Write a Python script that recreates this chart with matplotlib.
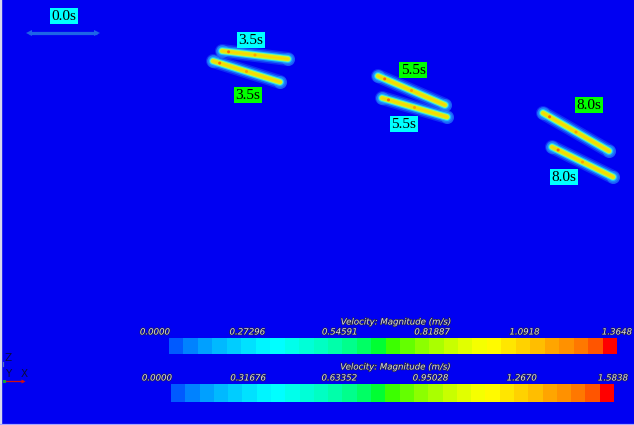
import numpy as np
import matplotlib
matplotlib.use("Agg")
import matplotlib.pyplot as plt
from matplotlib.colors import ListedColormap, Normalize
import matplotlib.colorbar as mcolorbar
import matplotlib.patheffects as pe

# rod snapshots: label, end points (scene coordinates, y down)
rod_times = ['0.0s', '3.5s', '3.5s', '5.5s', '5.5s', '8.0s', '8.0s']
rod_x0 = [29, 222, 213, 378, 382, 543, 552]
rod_y0 = [33, 51, 61, 76, 98, 113, 147]
rod_x1 = [97, 288, 280, 445, 447, 609, 613]
rod_y1 = [33, 59, 82, 105, 117, 151, 177]

# time tags next to the rods
tag_text = ['0.0s', '3.5s', '3.5s', '5.5s', '5.5s', '8.0s', '8.0s']
tag_x = [64, 251, 248, 413, 404, 589, 564]
tag_y = [16, 40, 95, 70, 124, 105, 177]
tag_box = ['cyan', 'cyan', 'lime', 'lime', 'cyan', 'lime', 'cyan']

# velocity magnitude legends
vmax_a = 1.3648
vmax_b = 1.5838
ticks_a = ['0.0000', '0.27296', '0.54591', '0.81887', '1.0918', '1.3648']
ticks_b = ['0.0000', '0.31676', '0.63352', '0.95028', '1.2670', '1.5838']

# 31-level blue-red palette
levels_rgb = [
    (0, 90, 255), (0, 130, 255), (0, 160, 255), (0, 185, 255), (0, 205, 255),
    (0, 225, 255), (0, 245, 255), (0, 255, 255), (0, 255, 235), (0, 255, 215),
    (0, 255, 195), (0, 255, 170), (0, 255, 140), (0, 255, 100), (0, 255, 50),
    (60, 255, 0), (100, 255, 0), (140, 255, 0), (170, 255, 0), (200, 255, 0),
    (225, 255, 0), (245, 255, 0), (255, 250, 0), (255, 230, 0), (255, 210, 0),
    (255, 190, 0), (255, 165, 0), (255, 145, 0), (255, 120, 0), (255, 85, 0),
    (255, 0, 0),
]

W, H = 634, 425
BG = '#0000f2'
px = 0.72  # points per pixel at 100 dpi

fig = plt.figure(figsize=(W / 100, H / 100), dpi=100, facecolor=BG)
ax = fig.add_axes([0, 0, 1, 1])
ax.set_xlim(0, W)
ax.set_ylim(H, 0)
ax.set_facecolor(BG)
ax.axis('off')

# frame edges
ax.axvline(1.2, color='#d8d8ec', lw=2.4 * px, zorder=1)
ax.axhline(423.5, color='#a8a8ff', lw=1.2 * px, zorder=1)

# rods
for i, t in enumerate(rod_times):
    xs = [rod_x0[i], rod_x1[i]]
    ys = [rod_y0[i], rod_y1[i]]
    if t == '0.0s':
        ax.plot(xs, ys, color='#1e64e6', lw=3.2 * px, solid_capstyle='butt', zorder=3)
        ax.plot(xs[0], ys[0], marker='<', ms=6 * px, color='#1e64e6', mew=0, zorder=3)
        ax.plot(xs[1], ys[1], marker='>', ms=6 * px, color='#1e64e6', mew=0, zorder=3)
        continue
    # soft glow around the rod
    ax.plot(xs, ys, color='#2a7cff', lw=14 * px, solid_capstyle='round', alpha=0.35, zorder=2)
    ax.plot(xs, ys, color='#1a98ff', lw=11 * px, solid_capstyle='round', alpha=0.55, zorder=2)
    ax.scatter(xs, ys, s=(13 * px) ** 2, color='#2a9cff', alpha=0.45, lw=0, zorder=2)
    ax.plot(xs, ys, color='#20d0ff', lw=8 * px, solid_capstyle='round', alpha=0.9, zorder=3)
    ax.plot(xs, ys, color='#7cff9a', lw=6 * px, solid_capstyle='round', zorder=4)
    ax.plot(xs, ys, color='#e2ea10', lw=4.5 * px, solid_capstyle='round', zorder=5)
    ax.plot(xs, ys, color='#ffd400', lw=1.5 * px, solid_capstyle='round', zorder=6)
    # warm spots near the leading end and the middle
    fx = np.array([0.1, 0.5])
    ax.scatter(xs[0] + fx * (xs[1] - xs[0]), ys[0] + fx * (ys[1] - ys[0]),
               s=(3 * px) ** 2, color=['#ff6a00', '#ffa000'], lw=0, zorder=7)

# time tags
for s, x, y, c in zip(tag_text, tag_x, tag_y, tag_box):
    ax.text(x, y, s, ha='center', va='center', fontsize=11, color='black',
            family='Liberation Serif', zorder=10,
            bbox=dict(boxstyle='square,pad=0.08', fc=c, ec='none'))

# coordinate triad
ax.plot([4, 23], [381, 381], color='#d01010', lw=1.3 * px, zorder=5)
ax.plot(23, 381, marker='>', ms=4 * px, color='#d01010', mew=0, zorder=5)
ax.plot(4, 381, marker='s', ms=3 * px, color='#10a040', mew=0, zorder=6)
ax.plot([3, 3], [362, 366], color='#5070c0', lw=1.2 * px, zorder=5)
for s, x, y in [('Z', 8, 358), ('Y', 8, 374), ('X', 24, 374)]:
    ax.text(x, y, s, fontsize=7.5, color='#0a0a40', ha='center', va='center',
            zorder=6)

cmap = ListedColormap(np.array(levels_rgb) / 255.0)
TXT = '#dcdce6'
shadow = [pe.withStroke(linewidth=1.0, foreground='#20204a')]


def legend_bar(vmax, ticks, bar_px, lab_px, title_y, tick_y):
    x0, x1, y0, y1 = bar_px
    cax = fig.add_axes([x0 / W, 1 - y1 / H, (x1 - x0) / W, (y1 - y0) / H])
    cb = mcolorbar.ColorbarBase(cax, cmap=cmap, norm=Normalize(0, vmax),
                                orientation='horizontal')
    cb.outline.set_visible(False)
    cax.set_xticks([])
    # tick labels spread along their own scale above the bar
    l0, l1 = lab_px
    lax = fig.add_axes([l0 / W, 1 - tick_y / H, (l1 - l0) / W, 0.001])
    lax.set_xlim(0, vmax)
    lax.patch.set_visible(False)
    for sp in lax.spines.values():
        sp.set_visible(False)
    lax.set_yticks([])
    vals = np.linspace(0, vmax, len(ticks))
    lax.set_xticks(vals)
    lax.set_xticklabels(ticks)
    lax.tick_params(axis='x', length=0, pad=0, labelsize=6.2, labelcolor=TXT)
    for lbl in lax.get_xticklabels():
        lbl.set_fontstyle('italic')
        lbl.set_verticalalignment('center')
        lbl.set_path_effects(shadow)
    ax.text((x0 + x1) / 2 + 3, title_y, 'Velocity: Magnitude (m/s)', ha='center',
            va='center', fontsize=6.2, style='italic', color=TXT,
            path_effects=shadow, zorder=10)


legend_bar(vmax_a, ticks_a, (169, 617, 338, 354), (155, 617), 322, 332)
legend_bar(vmax_b, ticks_b, (171, 614, 384, 402), (157, 613), 367, 378)

fig.savefig('out.png', dpi=100, facecolor=BG)
